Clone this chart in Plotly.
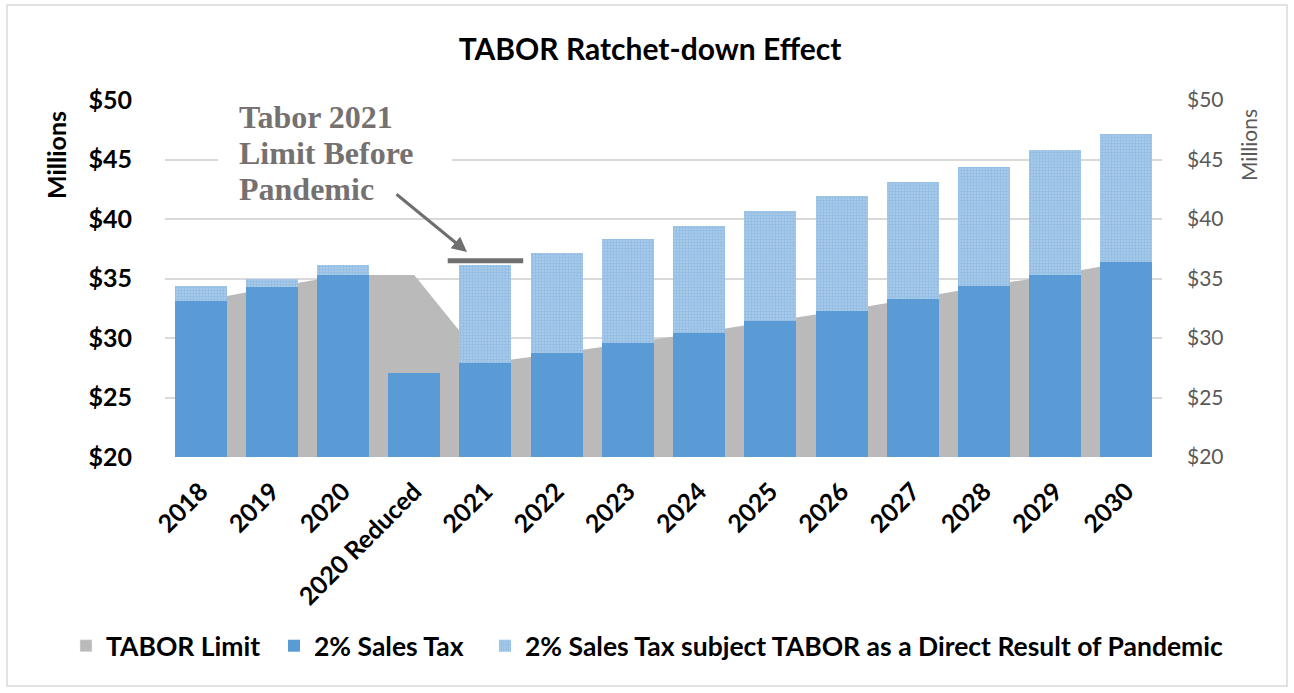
import plotly.graph_objects as go

categories = ["2018", "2019", "2020", "2020 Reduced", "2021", "2022", "2023",
              "2024", "2025", "2026", "2027", "2028", "2029", "2030"]
tabor_limit = [33.1, 34.25, 35.3, 35.3, 27.9, 28.7, 29.55, 30.45, 31.4, 32.3, 33.3, 34.35, 35.3, 36.4]
sales_tax = [33.1, 34.25, 35.3, 27.1, 27.9, 28.7, 29.55, 30.45, 31.4, 32.3, 33.3, 34.35, 35.3, 36.4]
sales_tax_total = [34.35, 34.95, 36.1, 27.1, 36.1, 37.15, 38.3, 39.4, 40.7, 41.9, 43.15, 44.4, 45.8, 47.15]
pandemic_part = [round(t - s, 2) for t, s in zip(sales_tax_total, sales_tax)]
limit_2021_before = 36.5
limit_2021_index = categories.index("2021")
y_ticks = [20, 25, 30, 35, 40, 45, 50]
y_tick_text = ["$%d" % v for v in y_ticks]
note_lines = ["Tabor 2021", "Limit Before", "Pandemic"]

FONT = "Lato"
BLUE = "#5B9BD5"
GRAY_AREA = "#BABABA"
NOTE_GRAY = "#767171"

fig = go.Figure()
fig.add_trace(go.Scatter(
    x=categories, y=tabor_limit, name="TABOR Limit", mode="none", showlegend=False,
    fill="tozeroy", fillcolor=GRAY_AREA, xaxis="x", yaxis="y",
))
# legend entry (square) for the area
fig.add_trace(go.Bar(
    x=[None], y=[None], name="TABOR Limit", marker=dict(color=GRAY_AREA),
    xaxis="x", yaxis="y", legend="legend",
))
fig.add_trace(go.Bar(
    x=categories, y=sales_tax, name="2% Sales Tax",
    marker=dict(color=BLUE, line=dict(width=0)), xaxis="x", yaxis="y2", legend="legend2",
))
fig.add_trace(go.Bar(
    x=categories, y=pandemic_part, name="2% Sales Tax subject TABOR as a Direct Result of Pandemic",
    marker=dict(color="white", line=dict(width=0),
                pattern=dict(shape=".", fgcolor=BLUE, bgcolor="#CFE2F3", size=3, solidity=0.8)),
    xaxis="x", yaxis="y2", legend="legend3",
))

L, R, T, B = 165, 1162, 100, 457
W, H = 1294, 693
pw, ph = R - L, B - T

def px(x):
    return (x - L) / pw

def py(y):
    return (B - y) / ph

legend_font = dict(family=FONT, size=26.5, color="black", weight="bold")

def legend_at(x_pix):
    return dict(orientation="h", x=px(x_pix), xanchor="left", y=py(646), yanchor="middle",
                font=legend_font, itemwidth=30, bgcolor="rgba(0,0,0,0)")

fig.update_layout(
    width=W, height=H,
    margin=dict(l=L, r=W - R, t=T, b=H - B, autoexpand=False),
    paper_bgcolor="white", plot_bgcolor="white",
    barmode="stack", bargap=0.27,
    showlegend=True,
    legend=legend_at(66),
    legend2=legend_at(274),
    legend3=legend_at(485),
    title=dict(text="<b>TABOR Ratchet-down Effect</b>", x=px(650), xanchor="center",
               y=1 - 49 / H, yanchor="middle", xref="paper",
               font=dict(family=FONT, size=30, color="black")),
    xaxis=dict(type="category", tickangle=-45, showgrid=False, showline=False, ticks="",
               automargin=False, ticklabelstandoff=14,
               tickfont=dict(family=FONT, size=25, color="black", weight="bold")),
    yaxis=dict(range=[20, 50], tickvals=y_ticks, ticktext=y_tick_text, showgrid=True,
               gridcolor="#D9D9D9", gridwidth=1.5, zeroline=False, showline=False,
               ticks="", ticklabelstandoff=32, automargin=False,
               tickfont=dict(family=FONT, size=25, color="black", weight="bold")),
    yaxis2=dict(range=[20, 50], tickvals=y_ticks, ticktext=y_tick_text, overlaying="y", side="right",
                showgrid=False, zeroline=False, showline=False, ticks="", ticklabelstandoff=24,
                automargin=False,
                tickfont=dict(family=FONT, size=21, color="#595959")),
)

# axis titles placed near the top like the reference
fig.add_annotation(text="<b>Millions</b>", xref="paper", yref="paper", x=px(56), y=py(155),
                   xanchor="center", yanchor="middle", textangle=-90, showarrow=False,
                   font=dict(family=FONT, size=25, color="black"))
fig.add_annotation(text="Millions", xref="paper", yref="paper", x=px(1248), y=py(145),
                   xanchor="center", yanchor="middle", textangle=-90, showarrow=False,
                   font=dict(family=FONT, size=21, color="#595959"))

# Tabor 2021 limit before pandemic marker line
fig.add_shape(type="line", xref="x", yref="y2",
              x0=limit_2021_index - 0.53, x1=limit_2021_index + 0.53,
              y0=limit_2021_before, y1=limit_2021_before,
              line=dict(color="#6F6F6F", width=5), layer="above")

# white box behind the note (hides the gridlines there)
fig.add_shape(type="rect", xref="paper", yref="paper",
              x0=px(218), x1=px(452), y0=py(208), y1=py(90),
              fillcolor="white", line=dict(width=0), layer="above")
for i, line in enumerate(note_lines):
    fig.add_annotation(
        text="<b>%s</b>" % line, xref="paper", yref="paper",
        x=px(237), y=py(117 + 36 * i), xanchor="left", yanchor="middle", showarrow=False,
        align="left", font=dict(family="Liberation Serif", size=32, color=NOTE_GRAY),
    )
# arrow
fig.add_annotation(
    text="", xref="paper", yref="paper", x=px(467), y=py(252),
    ax=395 - 467, ay=193 - 252, showarrow=True, arrowhead=2, arrowsize=1,
    arrowwidth=3, arrowcolor="#6F6F6F",
)

# outer frame
fig.add_shape(type="rect", xref="paper", yref="paper",
              x0=px(7), x1=px(1287), y0=py(686), y1=py(5),
              line=dict(color="#D9D9D9", width=1.5), layer="below")

fig.write_html("out.html")
